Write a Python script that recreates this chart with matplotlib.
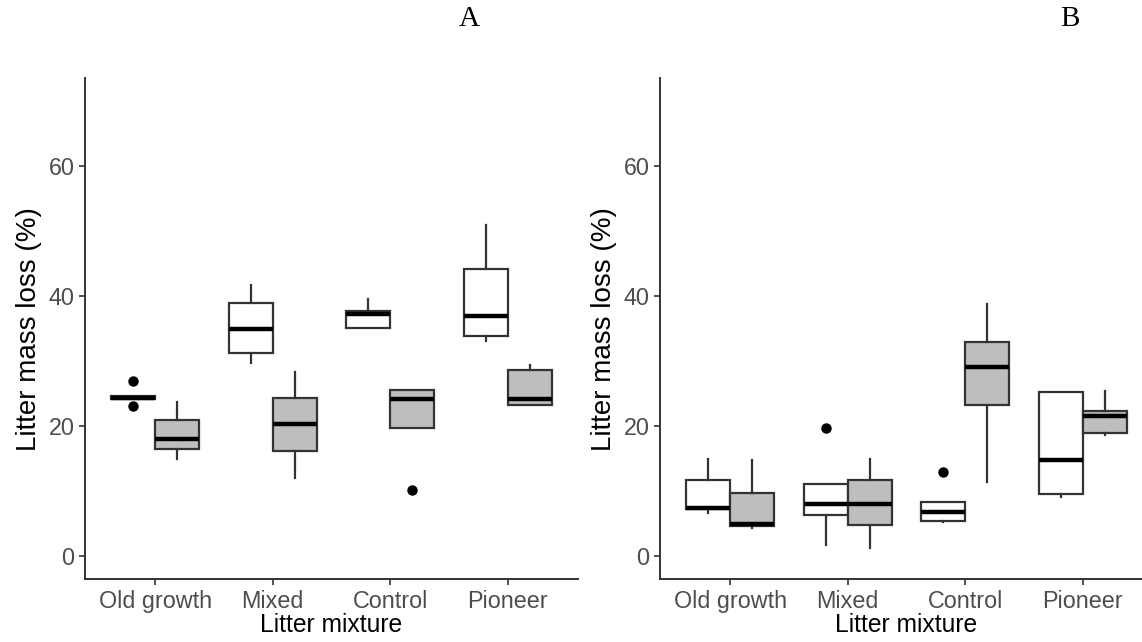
import matplotlib
matplotlib.use('Agg')
import matplotlib.pyplot as plt

categories = ['Old growth', 'Mixed', 'Control', 'Pioneer']

# (lower whisker, Q1, median, Q3, upper whisker) per category
a_open = [[24.2, 24.2, 24.4, 24.6, 24.6],
          [29.7, 31.2, 34.9, 39.0, 41.7],
          [35.1, 35.1, 37.3, 37.7, 39.6],
          [33.1, 33.9, 37.0, 44.2, 51.0]]
a_open_out = [[26.9, 23.1], [], [], []]
a_grey = [[15.0, 16.5, 18.0, 20.9, 23.8],
          [12.1, 16.2, 20.3, 24.4, 28.4],
          [19.7, 19.7, 24.2, 25.5, 25.5],
          [23.3, 23.3, 24.2, 28.6, 29.4]]
a_grey_out = [[], [], [10.2], []]

b_open = [[6.6, 7.2, 7.4, 11.8, 15.0],
          [1.8, 6.3, 8.0, 11.1, 11.1],
          [5.3, 5.5, 6.8, 8.3, 8.3],
          [9.1, 9.6, 14.8, 25.2, 25.2]]
b_open_out = [[], [19.8], [12.9], []]
b_grey = [[4.3, 4.6, 4.9, 9.8, 14.8],
          [1.3, 4.8, 8.1, 11.7, 15.0],
          [11.5, 23.3, 29.1, 33.0, 38.8],
          [18.6, 19.0, 21.5, 22.3, 25.4]]
b_grey_out = [[], [], [], []]

yticks = [0, 20, 40, 60]


def stats(rows, outs):
    return [dict(whislo=r[0], q1=r[1], med=r[2], q3=r[3], whishi=r[4], fliers=o)
            for r, o in zip(rows, outs)]


def panel(ax, opn, opn_out, gry, gry_out):
    pos = range(1, len(categories) + 1)
    w = 0.375
    common = dict(widths=w, showcaps=False, patch_artist=True,
                  whiskerprops=dict(color='#333333', lw=1.6),
                  medianprops=dict(color='black', lw=3.2),
                  flierprops=dict(marker='o', markerfacecolor='black',
                                  markeredgecolor='black', markersize=6.5))
    b1 = ax.bxp(stats(opn, opn_out), positions=[p - w / 2 for p in pos], **common)
    b2 = ax.bxp(stats(gry, gry_out), positions=[p + w / 2 for p in pos], **common)
    for b in b1['boxes']:
        b.set(facecolor='white', edgecolor='#333333', lw=1.6)
    for b in b2['boxes']:
        b.set(facecolor='#bebebe', edgecolor='#333333', lw=1.6)
    ax.set_xlim(0.4, 4.6)
    ax.set_ylim(-3.5, 73.5)
    ax.set_xticks(list(pos))
    ax.set_xticklabels(categories)
    ax.set_yticks(yticks)
    for s in ['top', 'right']:
        ax.spines[s].set_visible(False)
    for s in ['left', 'bottom']:
        ax.spines[s].set_color('#333333')
        ax.spines[s].set_linewidth(1.4)
    ax.tick_params(colors='#333333', labelcolor='#4d4d4d', labelsize=16.8,
                   length=4, width=1.2)
    ax.set_xlabel('Litter mixture', fontsize=17.7, labelpad=0)
    ax.set_ylabel('Litter mass loss (%)', fontsize=20, labelpad=5)


fig = plt.figure(figsize=(11.42, 6.42), dpi=100)
plt.rcParams['font.family'] = ['Liberation Sans', 'DejaVu Sans']
ax1 = fig.add_axes([0.0744, 0.098, 0.4317, 0.780])
ax2 = fig.add_axes([0.5779, 0.098, 0.4317, 0.780])
panel(ax1, a_open, a_open_out, a_grey, a_grey_out)
panel(ax2, b_open, b_open_out, b_grey, b_grey_out)

fig.text(0.4107, 0.970, 'A', family='Liberation Serif', fontsize=21,
         ha='center', va='center')
fig.text(0.937, 0.970, 'B', family='Liberation Serif', fontsize=21,
         ha='center', va='center')

fig.savefig('out.png', dpi=100)
